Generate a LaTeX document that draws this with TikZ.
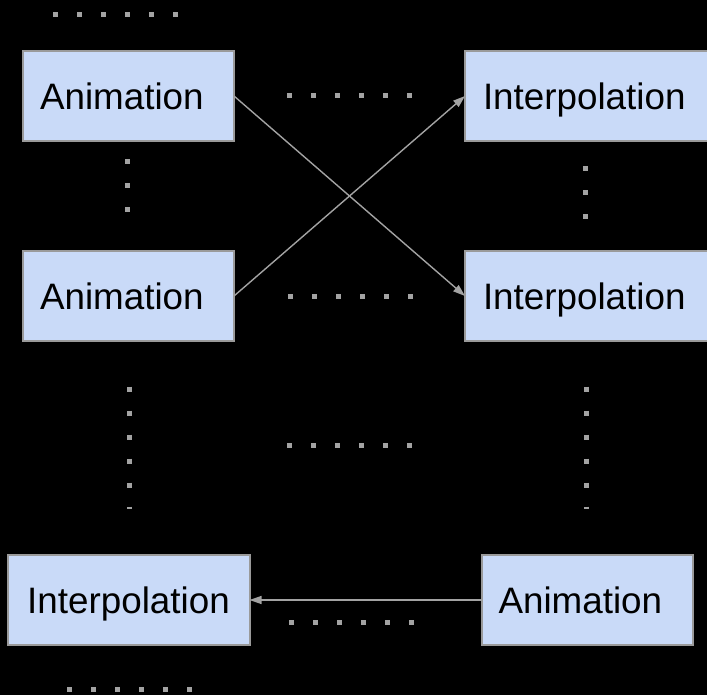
\documentclass[tikz,border=0pt]{standalone}
\usepackage{fontspec}
\setmainfont{Liberation Sans}
\usepackage{tikz}
\usetikzlibrary{arrows.meta, positioning}
\definecolor{boxfill}{HTML}{C9DAF8}
\definecolor{boxline}{HTML}{9A9A9A}
\definecolor{dotgray}{HTML}{A3A3A3}

\begin{document}
\begin{tikzpicture}[
    x=1pt, y=-1pt,
    block/.style={rectangle, draw=boxline, fill=boxfill, line width=2pt, outer sep=0pt,
                  minimum height=90pt, inner sep=0pt, text height=27pt, text depth=0pt,
                  font=\fontsize{36.8}{44}\selectfont},
    anim/.style={block, minimum width=211pt, text width=177pt, align=left},
    interp/.style={block, minimum width=242pt},
    edgebox/.style={interp, minimum width=248pt, text width=212pt, align=left},
    dots/.style={draw=dotgray, line width=5pt, dash pattern=on 5pt off 19pt},
    arrow/.style={-{Triangle[length=12pt, width=8pt]}, line width=1.4pt, color=dotgray}
]
    \fill[black] (0,0) rectangle (707,695);
    \useasboundingbox (0,0) rectangle (707,695);

    \node[anim] (a1) at (128.5,96) {Animation};
    \node[edgebox, right=231pt of a1] (i1) {Interpolation};
    \node[anim, below=110pt of a1] (a2) {Animation};
    \node[edgebox, right=231pt of a2] (i2) {Interpolation};
    \node[interp, below=214pt of a2] (i3) {Interpolation};
    \node[anim, right=232pt of i3] (a3) {Animation};

    \draw[arrow] (a1.east) -- (i2.west);
    \draw[arrow] (a2.east) -- (i1.west);
    \draw[arrow] (a3.west) -- (i3.east);

    \draw[dots] (53,15) -- (178,15);
    \draw[dots] (287,96) -- (412,96);
    \draw[dots] (288,296) -- (413,296);
    \draw[dots] (287,445) -- (412,445);
    \draw[dots] (289,622) -- (414,622);
    \draw[dots] (67,689) -- (192,689);
    \draw[dots] (127.3,159.5) -- (127.3,212.5);
    \draw[dots] (585.7,166.5) -- (585.7,219.5);
    \draw[dots] (129.3,386.7) -- (129.3,509);
    \draw[dots] (586.7,386.7) -- (586.7,508.5);
\end{tikzpicture}
\end{document}
